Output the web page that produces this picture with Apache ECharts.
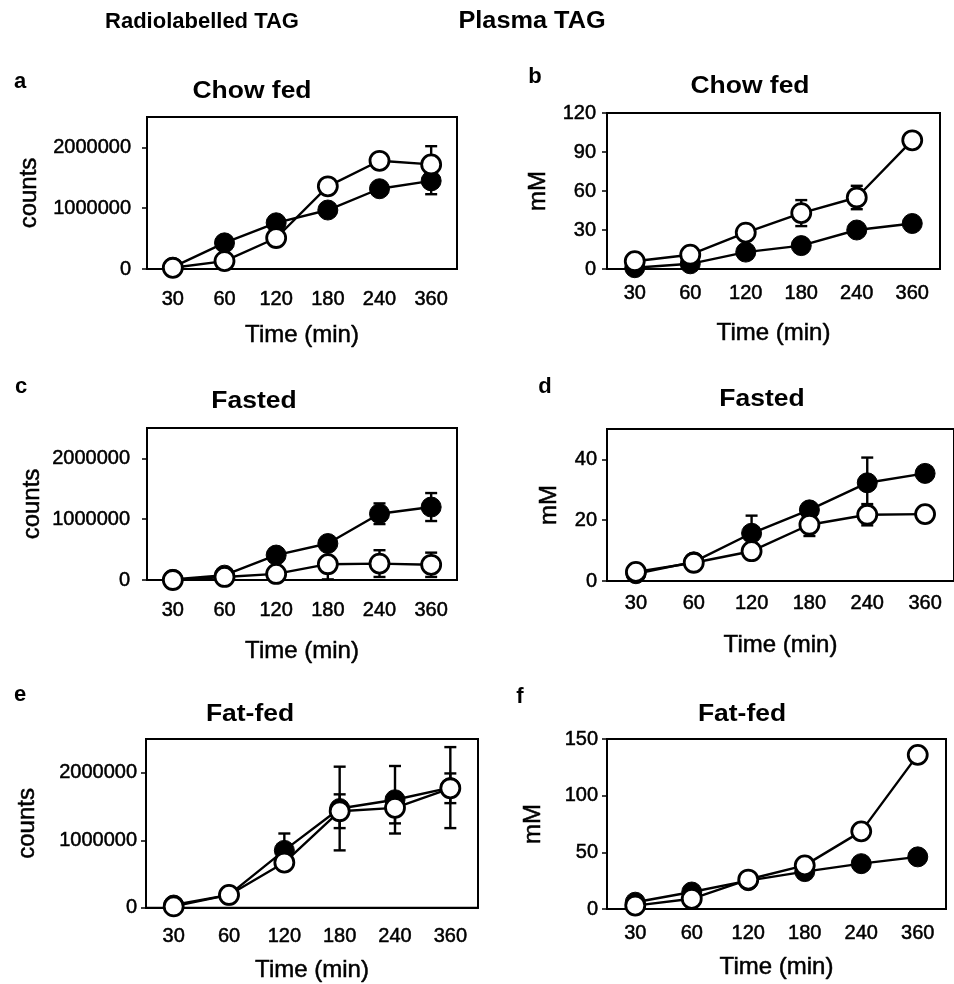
<!DOCTYPE html>
<html lang="en">
<head>
    <meta charset="UTF-8">
    <title>TAG time course</title>
    <script src="https://cdn.jsdelivr.net/npm/echarts@6/dist/echarts.min.js"></script>
    <style>
        html, body { margin: 0; padding: 0; background: #fff; }
        #main { width: 954px; height: 984px; }
    </style>
</head>
<body>
<div id="main"></div>
<script type="text/javascript">
    // time points (min)
    var times = ['30', '60', '120', '180', '240', '360'];

    // a - radiolabelled TAG, chow fed
    var aFilled = [30000, 430000, 760000, 970000, 1320000, 1450000];
    var aFilledErr = [0, 0, 0, 0, 0, 220000];
    var aOpen = [20000, 130000, 510000, 1360000, 1780000, 1720000];
    var aOpenErr = [0, 0, 0, 0, 0, 300000];

    // b - plasma TAG, chow fed
    var bFilled = [1, 4, 13, 18, 30, 35];
    var bFilledErr = [0, 0, 0, 0, 0, 0];
    var bOpen = [6, 11, 28, 43, 55, 99];
    var bOpenErr = [0, 0, 0, 10, 9, 5];

    // c - radiolabelled TAG, fasted
    var cFilled = [10000, 80000, 410000, 600000, 1090000, 1200000];
    var cFilledErr = [0, 0, 0, 0, 170000, 230000];
    var cOpen = [0, 50000, 100000, 260000, 270000, 250000];
    var cOpenErr = [0, 0, 0, 250000, 220000, 200000];

    // d - plasma TAG, fasted
    var dFilled = [2.4, 6.3, 15.7, 23.4, 32.3, 35.4];
    var dFilledErr = [0, 0, 5.8, 0, 8.3, 0];
    var dOpen = [3, 6, 9.8, 18.5, 21.8, 22];
    var dOpenErr = [0, 0, 0, 3.7, 3.5, 0];

    // e - radiolabelled TAG, fat-fed
    var eFilled = [40000, 190000, 850000, 1470000, 1600000, 1780000];
    var eFilledErr = [0, 0, 250000, 620000, 500000, 600000];
    var eOpen = [20000, 190000, 670000, 1430000, 1480000, 1770000];
    var eOpenErr = [0, 0, 0, 250000, 230000, 220000];

    // f - plasma TAG, fat-fed
    var fFilled = [6, 15, 25, 33, 40, 46];
    var fFilledErr = [0, 0, 0, 0, 0, 0];
    var fOpen = [3, 9, 26, 38.5, 68.5, 136];
    var fOpenErr = [0, 0, 0, 0, 0, 0];

    var FONT = '"Liberation Sans", Arial, sans-serif';

    // panel layout: box position, axis range, label margins
    var panels = [
        {letter: 'a', title: 'Chow fed', yName: 'counts', left: 147, top: 117, width: 310, height: 152,
            max: 2500000, interval: 1000000, hideMax: true, yMargin: 16, xMargin: 20, yGap: 106, xGap: 54,
            titleX: 252, titleY: 92, letterX: 20, letterY: 82,
            filled: aFilled, filledErr: aFilledErr, open: aOpen, openErr: aOpenErr},
        {letter: 'b', title: 'Chow fed', yName: 'mM', left: 607, top: 113, width: 333, height: 156,
            max: 120, interval: 30, hideMax: false, yMargin: 11, xMargin: 14, yGap: 57, xGap: 52,
            titleX: 750, titleY: 87, letterX: 535, letterY: 77,
            filled: bFilled, filledErr: bFilledErr, open: bOpen, openErr: bOpenErr},
        {letter: 'c', title: 'Fasted', yName: 'counts', left: 147, top: 428, width: 310, height: 152,
            max: 2500000, interval: 1000000, hideMax: true, yMargin: 17, xMargin: 20, yGap: 103, xGap: 59,
            titleX: 254, titleY: 402, letterX: 21, letterY: 387,
            filled: cFilled, filledErr: cFilledErr, open: cOpen, openErr: cOpenErr},
        {letter: 'd', title: 'Fasted', yName: 'mM', left: 607, top: 429, width: 357, height: 152,
            max: 50, interval: 20, hideMax: true, yMargin: 10, xMargin: 12, yGap: 46, xGap: 52,
            titleX: 762, titleY: 400, letterX: 545, letterY: 387,
            filled: dFilled, filledErr: dFilledErr, open: dOpen, openErr: dOpenErr},
        {letter: 'e', title: 'Fat-fed', yName: 'counts', left: 146, top: 739, width: 332, height: 170,
            max: 2500000, interval: 1000000, hideMax: true, yMargin: 9, xMargin: 19, yGap: 107, xGap: 51,
            titleX: 250, titleY: 715, letterX: 20, letterY: 695,
            filled: eFilled, filledErr: eFilledErr, open: eOpen, openErr: eOpenErr},
        {letter: 'f', title: 'Fat-fed', yName: 'mM', left: 607, top: 739, width: 339, height: 170,
            max: 150, interval: 50, hideMax: false, yMargin: 9, xMargin: 14, yGap: 62, xGap: 46,
            titleX: 742, titleY: 715, letterX: 520, letterY: 697,
            filled: fFilled, filledErr: fFilledErr, open: fOpen, openErr: fOpenErr}
    ];

    // vertical error bar with caps, drawn from the axes' own scales
    function errorBar(params, api) {
        var x = api.value(0), y = api.value(1), e = api.value(2);
        if (!e) return;
        var hi = api.coord([x, y + e]);
        var lo = api.coord([x, y - e]);
        var w = 6;
        var st = {stroke: '#000', lineWidth: 2.4};
        return {
            type: 'group',
            children: [
                {type: 'line', shape: {x1: hi[0], y1: hi[1], x2: lo[0], y2: lo[1]}, style: st},
                {type: 'line', shape: {x1: hi[0] - w, y1: hi[1], x2: hi[0] + w, y2: hi[1]}, style: st},
                {type: 'line', shape: {x1: lo[0] - w, y1: lo[1], x2: lo[0] + w, y2: lo[1]}, style: st}
            ]
        };
    }

    function errData(vals, errs) {
        return vals.map(function (v, i) { return [i, v, errs[i]]; });
    }

    // scanned text looks heavier than plain Arial, so thicken a little
    var inkText = {color: '#000', fontFamily: FONT, textBorderColor: '#000', textBorderWidth: 0.5};

    function boldText(x, y, text, size, sx) {
        return {type: 'text', x: x, y: y, scaleX: sx || 1,
            style: {text: text, font: 'bold ' + size + 'px ' + FONT, fill: '#000',
                align: 'center', verticalAlign: 'middle'}};
    }

    var grids = [], xAxes = [], yAxes = [], series = [];
    var graphics = [
        boldText(202, 22, 'Radiolabelled TAG', 22),
        boldText(532, 22, 'Plasma TAG', 23, 1.1)
    ];

    panels.forEach(function (p, k) {
        grids.push({left: p.left, top: p.top, width: p.width, height: p.height,
            show: true, borderColor: '#000', borderWidth: 2, backgroundColor: 'transparent'});
        xAxes.push({
            gridIndex: k, type: 'category', data: times,
            name: 'Time (min)', nameLocation: 'middle', nameGap: p.xGap,
            nameTextStyle: Object.assign({fontSize: 24}, inkText),
            axisLine: {lineStyle: {color: '#000', width: 2}},
            axisTick: {length: 5, lineStyle: {color: '#000', width: 1.5}},
            axisLabel: Object.assign({fontSize: 20, margin: p.xMargin}, inkText),
            splitLine: {show: false}
        });
        yAxes.push({
            gridIndex: k, type: 'value', min: 0, max: p.max, interval: p.interval,
            name: p.yName, nameLocation: 'middle', nameRotate: 90, nameGap: p.yGap,
            nameTextStyle: Object.assign({fontSize: 24}, inkText),
            axisLine: {show: true, lineStyle: {color: '#000', width: 2}},
            axisTick: {show: true, length: 5, lineStyle: {color: '#000', width: 1.5}},
            axisLabel: Object.assign({fontSize: 20, margin: p.yMargin,
                showMaxLabel: !p.hideMax,
                formatter: function (v) { return String(v); }}, inkText),
            splitLine: {show: false}
        });

        // error bars sit behind the circles
        series.push({type: 'custom', xAxisIndex: k, yAxisIndex: k, renderItem: errorBar,
            data: errData(p.filled, p.filledErr), encode: {x: 0, y: 1}, z: 1, silent: true});
        series.push({type: 'custom', xAxisIndex: k, yAxisIndex: k, renderItem: errorBar,
            data: errData(p.open, p.openErr), encode: {x: 0, y: 1}, z: 1, silent: true});
        series.push({type: 'line', xAxisIndex: k, yAxisIndex: k, data: p.filled, z: 2,
            symbol: 'circle', symbolSize: 20,
            lineStyle: {color: '#000', width: 2.4},
            itemStyle: {color: '#000', borderColor: '#000', borderWidth: 1},
            emphasis: {disabled: true}});
        series.push({type: 'line', xAxisIndex: k, yAxisIndex: k, data: p.open, z: 3,
            symbol: 'circle', symbolSize: 19,
            lineStyle: {color: '#000', width: 2.4},
            itemStyle: {color: '#fff', borderColor: '#000', borderWidth: 2.8},
            emphasis: {disabled: true}});

        graphics.push(boldText(p.letterX, p.letterY, p.letter, 22));
        graphics.push(boldText(p.titleX, p.titleY, p.title, 23, 1.15));
    });

    var chart = echarts.init(document.getElementById('main'));
    chart.setOption({
        animation: false,
        backgroundColor: '#fff',
        grid: grids,
        xAxis: xAxes,
        yAxis: yAxes,
        series: series,
        graphic: graphics
    });
</script>
</body>
</html>
